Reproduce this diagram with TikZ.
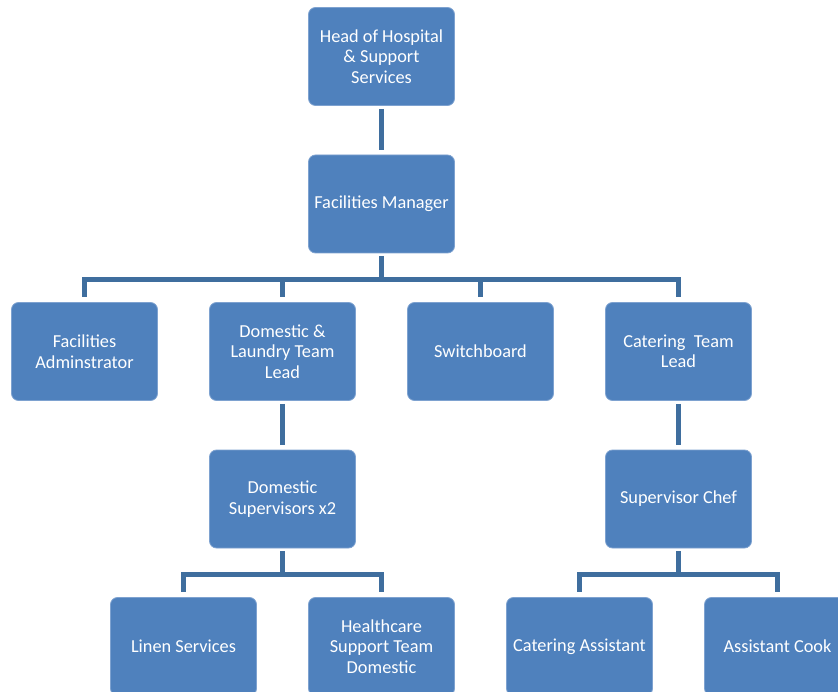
\documentclass[tikz,border=0pt]{standalone}
\usepackage{fontspec}
\setmainfont{Carlito}
\usepackage{tikz}
\usetikzlibrary{positioning,calc}
\definecolor{OrgBlue}{HTML}{4F81BD}
\definecolor{OrgEdge}{HTML}{7EA2D0}
\definecolor{OrgLine}{HTML}{3F6E9E}
\tikzset{
  orgbox/.style={draw=OrgEdge, line width=0.8pt, rounded corners=7pt, fill=OrgBlue, text=white, align=center, minimum width=146pt, minimum height=98pt, inner sep=2pt, font=\fontsize{18.3}{20.5}\selectfont},
  link/.style={draw=OrgLine, line width=4.5pt},
  drop/.style={link, shorten >=5pt}
}
\begin{document}
\begin{tikzpicture}[node distance=48.7pt and 51.2pt]
\useasboundingbox (0,0) rectangle (838pt,-692pt);
\clip (0,0) rectangle (838pt,-692pt);
\node[orgbox] (head) at (381.5pt,-56.5pt) {Head of Hospital\\\& Support\\Services};
\node[orgbox, below=of head] (fm) {Facilities Manager};
\node[orgbox, below=of fm, xshift=-99pt] (dom) {Domestic \&\\Laundry Team\\Lead};
\node[orgbox, left=of dom] (admin) {Facilities\\Adminstrator};
\node[orgbox, right=of dom] (switch) {Switchboard};
\node[orgbox, right=of switch] (cater) {Catering~ Team\\Lead};
\node[orgbox, below=of dom] (dsup) {Domestic\\Supervisors x2};
\node[orgbox, below=of cater] (chef) {Supervisor Chef};
\node[orgbox, below=of dsup, xshift=-99pt] (linen) {Linen Services};
\node[orgbox, right=of linen] (hca) {Healthcare\\Support Team\\Domestic};
\node[orgbox, below=of chef, xshift=-99pt] (catasst) {Catering Assistant};
\node[orgbox, right=of catasst] (cook) {Assistant Cook};
\coordinate (bar1) at ($(fm.south)+(0,-26pt)$);
\coordinate (bar2) at ($(dsup.south)+(0,-26pt)$);
\coordinate (bar3) at ($(chef.south)+(0,-26pt)$);
\draw[link, shorten <=3pt, shorten >=5pt] (head) -- (fm);
\draw[link, shorten <=3pt] (fm) -- (bar1);
\draw[drop] (bar1) -| (admin);
\draw[drop] (bar1) -| (dom);
\draw[drop] (bar1) -| (switch);
\draw[drop] (bar1) -| (cater);
\draw[link, shorten <=3pt, shorten >=5pt] (dom) -- (dsup);
\draw[link, shorten <=3pt, shorten >=5pt] (cater) -- (chef);
\draw[link, shorten <=3pt] (dsup) -- (bar2);
\draw[drop] (bar2) -| (linen);
\draw[drop] (bar2) -| (hca);
\draw[link, shorten <=3pt] (chef) -- (bar3);
\draw[drop] (bar3) -| (catasst);
\draw[drop] (bar3) -| (cook);
\end{tikzpicture}
\end{document}
